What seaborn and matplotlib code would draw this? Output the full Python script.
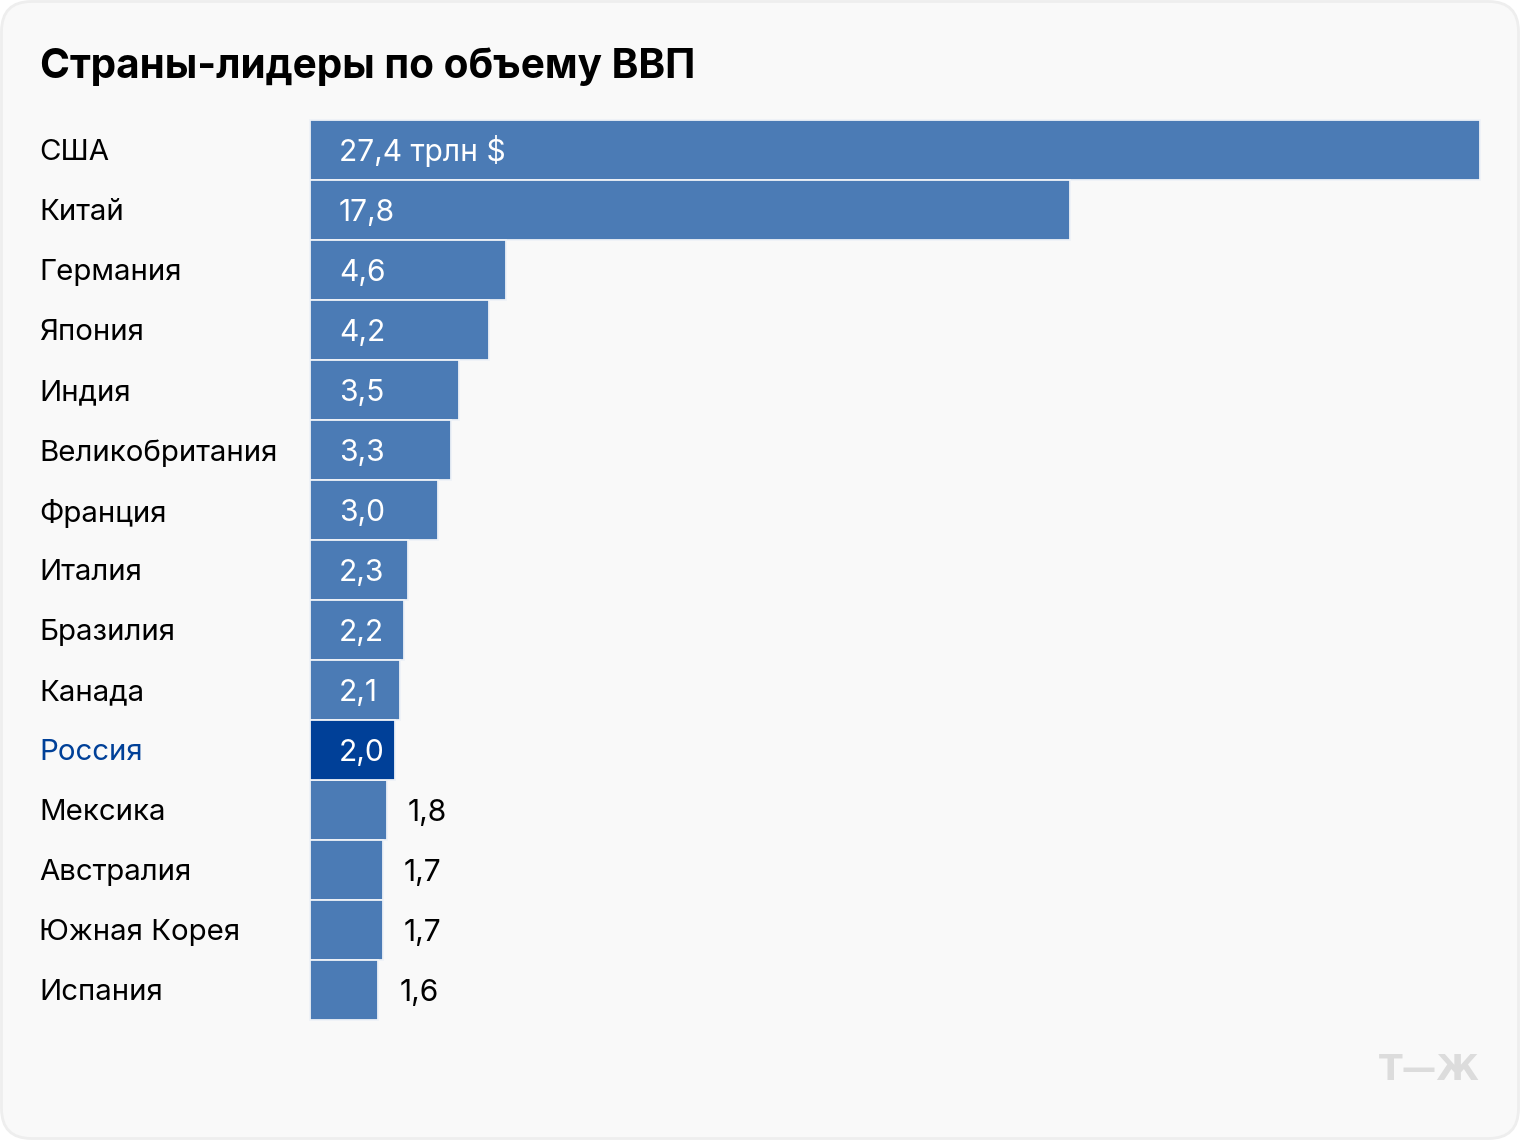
import matplotlib
matplotlib.use("Agg")
import matplotlib.pyplot as plt
from matplotlib.patches import FancyBboxPatch
import pandas as pd
import seaborn as sns

TITLE = "Страны-лидеры по объему ВВП"
countries = ["США", "Китай", "Германия", "Япония", "Индия", "Великобритания", "Франция",
             "Италия", "Бразилия", "Канада", "Россия", "Мексика", "Австралия",
             "Южная Корея", "Испания"]
values = [27.4, 17.8, 4.6, 4.2, 3.5, 3.3, 3.0, 2.3, 2.2, 2.1, 2.0, 1.8, 1.7, 1.7, 1.6]
value_labels = ["27,4 трлн $", "17,8", "4,6", "4,2", "3,5", "3,3", "3,0", "2,3", "2,2",
                "2,1", "2,0", "1,8", "1,7", "1,7", "1,6"]
highlight = "Россия"
inside_min = 2.0
BLUE = "#4b7bb5"
DARK = "#004098"
BG = "#f9f9f9"

sns.set_theme(style="white")
plt.rcParams["font.family"] = ["Inter", "DejaVu Sans"]

W, H = 1520, 1140
fig = plt.figure(figsize=(W / 100, H / 100), dpi=100, facecolor="white")
fig.add_artist(FancyBboxPatch((1.5, 1.5), W - 3, H - 3, boxstyle="round,pad=0,rounding_size=30",
                              transform=None, facecolor=BG, edgecolor="#eeeeee", linewidth=2,
                              zorder=-1))
ax = fig.add_axes([310 / W, (H - 1020) / H, 1170 / W, 900 / H])
ax.patch.set_alpha(0)

df = pd.DataFrame({"country": countries, "value": values})
df["group"] = ["hi" if c == highlight else "base" for c in countries]
sns.barplot(data=df, x="value", y="country", hue="group", dodge=False, legend=False,
            palette={"base": BLUE, "hi": DARK}, width=1.0, ax=ax, saturation=1,
            edgecolor="#eef2f7", linewidth=1.3)
ax.set_xlim(0, 27.4)
ax.set_ylim(len(countries) - 0.5, -0.5)
ax.set_xlabel("")
ax.set_ylabel("")
ax.set_xticks([])
sns.despine(ax=ax, left=True, bottom=True)
for p in ax.patches:
    p.set_clip_on(False)

ax.tick_params(axis="y", length=0, pad=271 * 0.72)
for lab in ax.get_yticklabels():
    lab.set_ha("left")
    lab.set_fontsize(21.2)
    lab.set_color(DARK if lab.get_text() == highlight else "#000000")

for i, (v, s) in enumerate(zip(values, value_labels)):
    if v >= inside_min:
        ax.annotate(s, (0, i), xytext=(29, -11), textcoords="offset pixels", color="white",
                    fontsize=21.6, va="baseline", ha="left")
    else:
        ax.annotate(s, (v, i), xytext=(21, -11), textcoords="offset pixels", color="black",
                    fontsize=21.6, va="baseline", ha="left")

fig.text(40 / W, (H - 78) / H, TITLE, fontsize=29.15, fontweight="bold", color="black", ha="left", va="baseline")
fig.text(1480 / W, (H - 1080) / H, "Т—Ж", fontsize=25, fontweight="bold", family="DejaVu Sans",
         color="#dcdcdc", ha="right", va="baseline")
fig.savefig("out.png", dpi=100, facecolor="white")
